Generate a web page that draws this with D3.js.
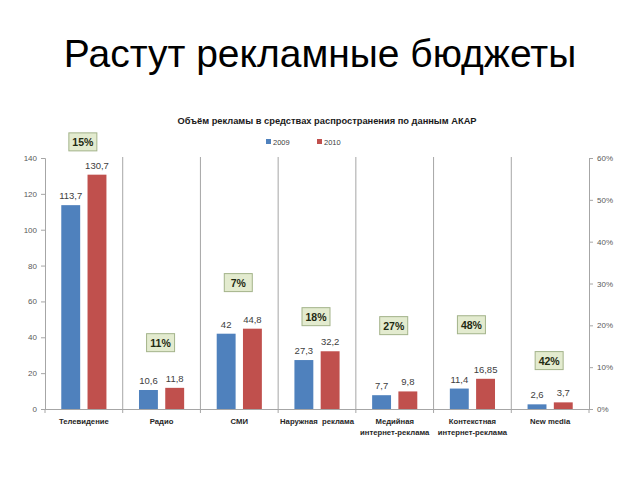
<!DOCTYPE html>
<html><head><meta charset="utf-8">
<script src="https://cdn.jsdelivr.net/npm/d3@7"></script>
<style>body{margin:0;background:#fff}svg{display:block}</style>
</head><body>
<svg id="c" width="640" height="480"></svg>
<script>
const categories = [["Телевидение"],["Радио"],["СМИ"],["Наружная  реклама"],["Медийная","интернет-реклама"],["Контекстная","интернет-реклама"],["New media"]];
const series2009 = [113.7, 10.6, 42, 27.3, 7.7, 11.4, 2.6];
const series2010 = [130.7, 11.8, 44.8, 32.2, 9.8, 16.85, 3.7];
const labels2009 = ["113,7","10,6","42","27,3","7,7","11,4","2,6"];
const labels2010 = ["130,7","11,8","44,8","32,2","9,8","16,85","3,7"];
const growth = ["15%","11%","7%","18%","27%","48%","42%"];
const growthBoxLevel = [149, 37, 70.5, 51.5, 46.5, 47, 27]; // annotation heights in left-axis units
const leftTicks = [0,20,40,60,80,100,120,140];
const rightTicks = [0,0.1,0.2,0.3,0.4,0.5,0.6];
const seriesNames = ["2009","2010"];
const colors = ["#4f81bd","#c0504d"];

const svg = d3.select("#c");
const L = 45, R = 589, T = 158, B = 409;
const FF = "Liberation Sans, Arial, sans-serif";

svg.append("text").attr("x", 320).attr("y", 67).attr("text-anchor","middle")
  .attr("font-family",FF).attr("font-size", 39).attr("fill","#000")
  .text("Растут рекламные бюджеты");

svg.append("text").attr("x", 327).attr("y", 124).attr("text-anchor","middle")
  .attr("font-family",FF).attr("font-weight","bold").attr("font-size", 9.3).attr("fill","#1a1a1a")
  .text("Объём рекламы  в средствах распространения по данным АКАР");

// legend
const legX = [266, 317];
seriesNames.forEach((n,i)=>{
  svg.append("rect").attr("x", legX[i]).attr("y", 139).attr("width",5).attr("height",5).attr("fill",colors[i]);
  svg.append("text").attr("x", legX[i]+7).attr("y", 144.5).attr("font-family",FF)
    .attr("font-size", 7.5).attr("fill","#404040").text(n);
});

const x = d3.scaleBand().domain(d3.range(categories.length)).range([L, R]);
const xs = d3.scaleBand().domain([0,1]).range([0, x.bandwidth()]).paddingInner(0.28).paddingOuter(0.62);
const y = d3.scaleLinear().domain([0,140]).range([B, T]);
const y2 = d3.scaleLinear().domain([0,0.6]).range([B, T]);

// separators
const seps = d3.range(1, categories.length).map(i => x(i));
svg.selectAll(".sep").data(seps).join("line")
  .attr("x1", d=>d).attr("x2", d=>d).attr("y1", T-1).attr("y2", B+4)
  .attr("stroke","#a6a6a6").attr("stroke-width",1);

// axes
const gl = svg.append("g").attr("transform", `translate(${L},0)`)
  .call(d3.axisLeft(y).tickValues(leftTicks).tickSize(4).tickPadding(4));
const gr = svg.append("g").attr("transform", `translate(${R},0)`)
  .call(d3.axisRight(y2).tickValues(rightTicks).tickSize(4).tickPadding(4).tickFormat(d3.format(".0%")));
[gl, gr].forEach(g=>{
  g.select(".domain").attr("stroke","#a6a6a6");
  g.selectAll(".tick line").attr("stroke","#a6a6a6");
  g.selectAll("text").attr("font-family",FF).attr("font-size", 8).attr("fill","#595959");
});
svg.append("line").attr("x1", L-4).attr("x2", R).attr("y1", B+0.5).attr("y2", B+0.5).attr("stroke","#a6a6a6");
svg.selectAll(".bt").data([L, R]).join("line").attr("x1",d=>d).attr("x2",d=>d).attr("y1",B).attr("y2",B+4).attr("stroke","#a6a6a6");

// bars
const vals = [series2009, series2010], labs = [labels2009, labels2010];
vals.forEach((arr, s)=>{
  svg.selectAll(".b"+s).data(arr).join("rect")
    .attr("x",(d,i)=>x(i)+xs(s)).attr("width", xs.bandwidth())
    .attr("y", d=>y(d)).attr("height", d=>B - y(d)).attr("fill", colors[s]);
  svg.selectAll(".l"+s).data(arr).join("text")
    .attr("x",(d,i)=>x(i)+xs(s)+xs.bandwidth()/2).attr("y", d=>y(d)-6)
    .attr("text-anchor","middle").attr("font-family",FF)
    .attr("font-size", 9.5).attr("fill","#404040").text((d,i)=>labs[s][i]);
});

// category labels
categories.forEach((lines,i)=>{
  const t = svg.append("text").attr("text-anchor","middle").attr("font-family",FF)
    .attr("font-weight","bold").attr("font-size",7.7).attr("fill","#262626").attr("xml:space","preserve");
  lines.forEach((ln,j)=>{
    t.append("tspan").attr("x", x(i)+x.bandwidth()/2).attr("y", 424 + j*11).text(ln);
  });
});

// growth boxes
growth.forEach((g,i)=>{
  const cx = x(i)+x.bandwidth()/2 - 1, cy = y(growthBoxLevel[i]);
  svg.append("rect").attr("x", cx-14).attr("y", cy-9).attr("width",28).attr("height",18)
    .attr("fill","#e3ebcf").attr("stroke","#a3b38a").attr("stroke-width",1);
  svg.append("text").attr("x", cx).attr("y", cy+4).attr("text-anchor","middle")
    .attr("font-family",FF).attr("font-weight","bold").attr("font-size",10.5)
    .attr("fill","#1f2a12").text(g);
});
</script>
</body></html>
